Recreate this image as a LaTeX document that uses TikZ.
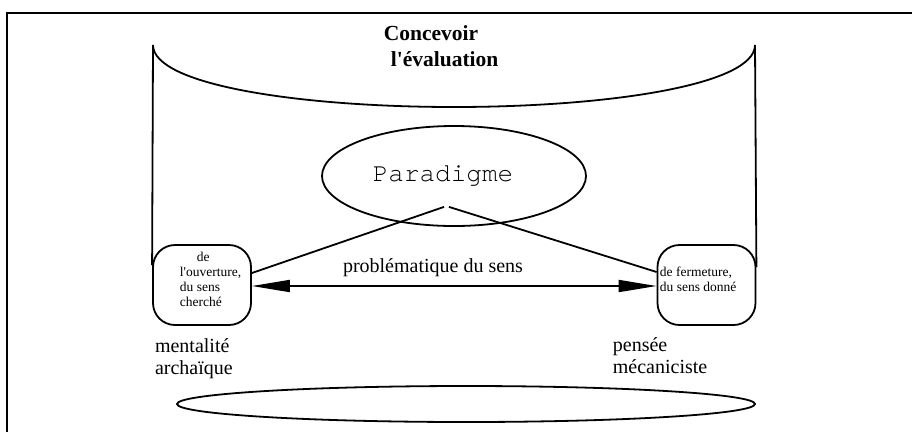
\documentclass[tikz,border=0pt]{standalone}
\usepackage{fontspec}
\setmainfont{Liberation Serif}
\newfontfamily\courier{texgyrecursor-regular.otf}
\usetikzlibrary{positioning,shapes.geometric,arrows.meta}
\begin{document}
\begin{tikzpicture}[x=1pt,y=-1pt,line width=1.8pt,
	boite/.style={draw,rounded corners=22pt,minimum width=98pt,minimum height=80pt},
	petit/.style={font=\fontsize{13.5}{15}\selectfont,align=left,inner sep=0pt,anchor=north west},
	etiq/.style={font=\fontsize{20}{21.5}\selectfont,align=left,inner sep=0pt,anchor=north west}]
	\tikzstyle{fleche}=[{Triangle[length=38pt,width=12pt]}-{Triangle[length=38pt,width=12pt]}]
	\useasboundingbox (0,0) rectangle (912,432);
	\draw[line width=2.2pt] (7,432) -- (7,13) -- (912,13);
	\node[inner sep=0pt,anchor=north west,align=left,font=\fontsize{21.5}{26}\selectfont\bfseries] (titre) at (383,25) {Concevoir\\\hspace*{7pt}l\textquotesingle évaluation};
	\node[draw,ellipse,minimum width=264pt,minimum height=100pt,font=\fontsize{26}{26}\courier] (para) at (454,176) {Paradigme\hspace*{22pt}};
	\node[boite] (ouv) at (202,285) {};
	\node[boite] (ferm) at (706.5,285) {};
	\node[petit] (ouvtxt) at (179,251) {\hspace*{17pt}de\\l\textquotesingle ouverture,\\du sens\\cherché};
	\node[petit] (fermtxt) at (659,266) {de fermeture,\\du sens donné};
	\node[font=\fontsize{20}{22}\selectfont,inner sep=0pt] (pb) at (433,268) {problématique du sens};
	\node[etiq,below right=12pt and 2pt of ouv.south west] (archa) {mentalité\\archaïque};
	\node[etiq] (meca) at (612,337) {pensée\\mécaniciste};
	\node[draw,ellipse,minimum width=578pt,minimum height=36pt] (socle) at (466,404) {};
	\coordinate (pg) at ([xshift=-10pt,yshift=20pt]para.south);
	\coordinate (pd) at ([xshift=-5pt,yshift=20pt]para.south);
	\draw ([yshift=20pt]ouv.west) -- (153,45) .. controls (153,85) and (300,107) .. (454,107) .. controls (608,107) and (755,85) .. (755,45) -- ([yshift=18pt]ferm.east);
	\draw (pg) -- ([yshift=12pt]ouv.east);
	\draw (pd) -- ([yshift=13pt]ferm.west);
	\draw[fleche] ([yshift=-1pt]ouv.east) -- ([yshift=-1pt]ferm.west);
\end{tikzpicture}
\end{document}
